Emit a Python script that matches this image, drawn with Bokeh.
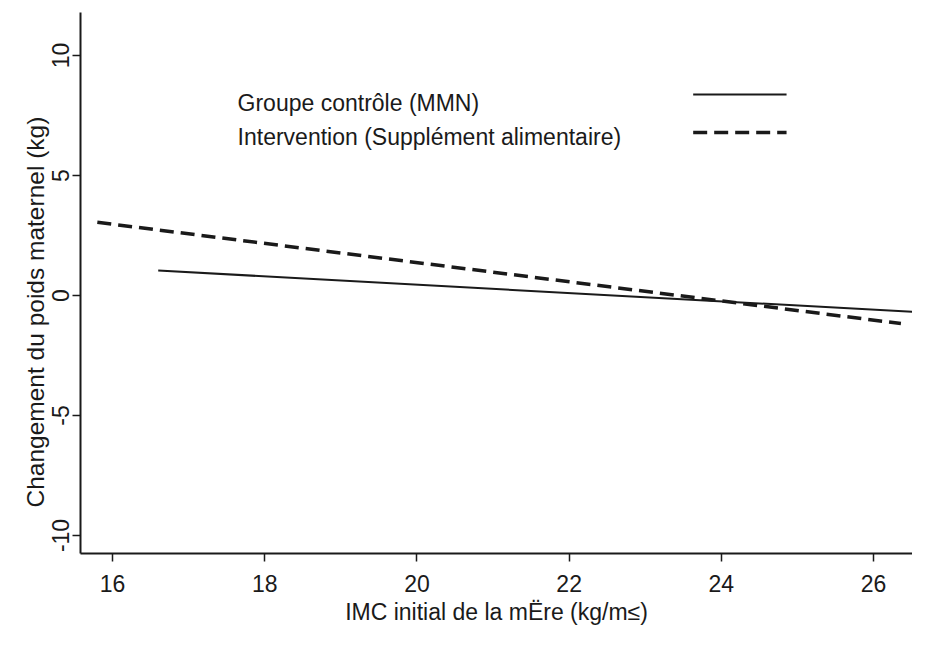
from bokeh.plotting import figure
from bokeh.models import Range1d, FixedTicker, Label, Title
from bokeh.embed import file_html
from bokeh.resources import INLINE

# --- data ---
control_x = [16.6, 26.62]
control_y = [1.04, -0.70]
interv_x = [15.80, 26.36]
interv_y = [3.05, -1.17]

x_ticks = [16, 18, 20, 22, 24, 26]
y_ticks = [-10, -5, 0, 5, 10]
y_tick_labels = ["-10", "-5", "0", "5", "10"]

label_control = "Groupe contrôle (MMN)"
label_interv = "Intervention (Supplément alimentaire)"
x_title = "IMC initial de la mËre (kg/m≤)"
y_title = "Changement du poids maternel (kg)"

FONT = "Liberation Sans"
INK = "#1a1a1a"

p = figure(width=912, height=633, output_backend="svg", toolbar_location=None,
           x_range=Range1d(15.579, 26.512), y_range=Range1d(-10.75, 11.79),
           background_fill_color="white", border_fill_color="white")
p.min_border_left = 80
p.min_border_top = 12
p.min_border_right = 0
p.min_border_bottom = 80
p.outline_line_color = None
p.grid.visible = False

for ax in (p.xaxis[0], p.yaxis[0]):
    ax.axis_line_width = 2
    ax.axis_line_color = INK
    ax.major_tick_line_color = INK
    ax.major_tick_line_width = 1.5
    ax.major_tick_out = 8
    ax.major_tick_in = 0
    ax.minor_tick_line_color = None
    ax.major_label_text_font = FONT
    ax.major_label_text_font_size = "23px"
    ax.major_label_text_color = INK

p.xaxis.ticker = FixedTicker(ticks=x_ticks)
p.yaxis.ticker = FixedTicker(ticks=y_ticks)
p.yaxis.major_label_overrides = {t: s for t, s in zip(y_ticks, y_tick_labels)}
p.yaxis.major_label_orientation = "vertical"
p.xaxis.major_label_standoff = 13
p.yaxis.major_label_standoff = 3

p.xaxis.axis_label = x_title
p.xaxis.axis_label_text_font = FONT
p.xaxis.axis_label_text_font_size = "23px"
p.xaxis.axis_label_text_font_style = "normal"
p.xaxis.axis_label_text_color = INK
p.xaxis.axis_label_standoff = 4

p.add_layout(Title(text=y_title, align="left", offset=46, text_font=FONT,
                   text_font_size="24.5px", text_font_style="normal",
                   text_color=INK, standoff=2), "left")

p.line(control_x, control_y, line_color=INK, line_width=2)
p.line(interv_x, interv_y, line_color=INK, line_width=3.5, line_dash="14 7")

# legend (labels on the left, line samples on the right)
leg_text_x = 17.643
leg_y1, leg_y2 = 8.04, 6.62
leg_line_x = [23.63, 24.857]
leg_line_y1, leg_line_y2 = 8.375, 6.79
for txt, yy in ((label_control, leg_y1), (label_interv, leg_y2)):
    p.add_layout(Label(x=leg_text_x, y=yy, text=txt, text_font=FONT,
                       text_font_size="23px", text_color=INK,
                       text_baseline="alphabetic"))
p.line(leg_line_x, [leg_line_y1, leg_line_y1], line_color=INK, line_width=2)
p.line(leg_line_x, [leg_line_y2, leg_line_y2], line_color=INK, line_width=3.5,
       line_dash="14 7")

open("out.html", "w").write(file_html(p, INLINE))
